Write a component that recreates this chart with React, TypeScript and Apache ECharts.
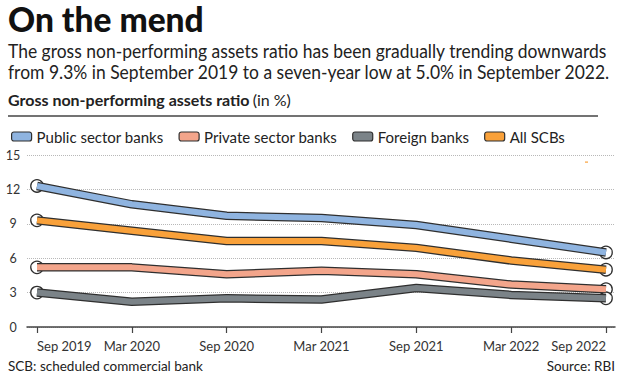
import React, { useEffect, useRef } from 'react';
import * as echarts from 'echarts';

const categories = ['Sep 2019', 'Mar 2020', 'Sep 2020', 'Mar 2021', 'Sep 2021', 'Mar 2022', 'Sep 2022'];
const publicSector = [12.3, 10.7, 9.7, 9.5, 8.9, 7.7, 6.5];
const privateSector = [5.2, 5.2, 4.6, 4.9, 4.6, 3.7, 3.3];
const foreignBanks = [3.0, 2.2, 2.5, 2.4, 3.4, 2.8, 2.5];
const allSCBs = [9.3, 8.4, 7.5, 7.5, 6.9, 5.8, 5.0];
const yMin = 0;
const yMax = 15;
const yInterval = 3;

const seriesDefs = [
  { name: 'Public sector banks', data: publicSector, color: '#8fb4e0' },
  { name: 'Private sector banks', data: privateSector, color: '#f3a58b' },
  { name: 'Foreign banks', data: foreignBanks, color: '#7b8388' },
  { name: 'All SCBs', data: allSCBs, color: '#f9a13a' },
];

const FONT = 'Lato, "Open Sans", sans-serif';
const DARK = '#2f2f2f';

export default function App() {
  const ref = useRef<HTMLDivElement>(null);
  useEffect(() => {
    if (!ref.current) return;
    const chart = echarts.init(ref.current, null, { renderer: 'svg' });
    const series: any[] = [];
    const drawOrder = [0, 3, 1, 2];
    drawOrder.forEach((i) => {
      const s = seriesDefs[i];
      series.push({
        type: 'line',
        name: s.name + ' outline',
        xAxisIndex: 1,
        yAxisIndex: 1,
        data: s.data,
        showSymbol: false,
        silent: true,
        lineStyle: { color: DARK, width: 8.5, join: 'round' },
        itemStyle: { color: DARK },
      });
      series.push({
        type: 'line',
        name: s.name,
        xAxisIndex: 1,
        yAxisIndex: 1,
        data: s.data,
        showSymbol: false,
        silent: true,
        color: s.color,
        lineStyle: { color: s.color, width: 6, join: 'round' },
        itemStyle: { color: s.color, borderColor: DARK, borderWidth: 1.2 },
      });
    });
    drawOrder.forEach((i) => {
      const s = seriesDefs[i];
      const last = s.data.length - 1;
      series.push({
        type: 'scatter',
        name: s.name + ' ends',
        xAxisIndex: 1,
        yAxisIndex: 1,
        data: [[0, s.data[0]], [last, s.data[last]]],
        symbol: 'circle',
        symbolSize: 12.5,
        silent: true,
        itemStyle: { color: '#ffffff', borderColor: DARK, borderWidth: 1.3, opacity: 1 },
      });
    });

    chart.setOption({
      animation: false,
      backgroundColor: '#ffffff',
      textStyle: { fontFamily: FONT },
      legend: {
        data: seriesDefs.map((s) => s.name),
        left: 6,
        top: 124,
        icon: 'roundRect',
        itemWidth: 20,
        itemHeight: 9,
        itemGap: 15,
        itemStyle: { borderColor: DARK, borderWidth: 1.2 },
        textStyle: { fontSize: 15, color: '#222', fontFamily: FONT, padding: [0, 0, 0, 0] },
        selectedMode: false,
      },
      grid: [
        { left: 27, right: 9, top: 155, bottom: 51 },
        { left: 37, right: 18, top: 155, bottom: 51 },
      ],
      xAxis: [
        {
          type: 'value',
          gridIndex: 0,
          min: 0,
          max: 1,
          axisLine: { show: true, lineStyle: { color: '#444', width: 1.5 } },
          axisTick: { show: false },
          axisLabel: { show: false },
          splitLine: { show: false },
        },
        {
          type: 'category',
          gridIndex: 1,
          data: categories,
          boundaryGap: false,
          axisLine: { show: false },
          axisTick: { show: true, length: 6, lineStyle: { color: '#444', width: 1.2 } },
          axisLabel: {
            interval: 0,
            color: '#333',
            fontSize: 13,
            margin: 12,
            fontFamily: FONT,
            alignMinLabel: 'left',
            alignMaxLabel: 'right',
          },
          splitLine: { show: false },
        },
      ],
      yAxis: [
        {
          type: 'value',
          gridIndex: 0,
          min: yMin,
          max: yMax,
          interval: yInterval,
          axisLine: { show: false },
          axisTick: { show: false },
          axisLabel: { color: '#333', fontSize: 12.5, align: 'center', margin: 14, fontFamily: FONT },
          splitLine: { show: true, lineStyle: { type: 'dotted', color: '#b8b8b8', width: 1 } },
        },
        {
          type: 'value',
          gridIndex: 1,
          min: yMin,
          max: yMax,
          interval: yInterval,
          show: false,
          splitLine: { show: false },
        },
      ],
      graphic: [
        {
          type: 'text',
          left: 8,
          top: 2,
          style: { text: 'On the mend', fontSize: 33.5, fontWeight: 900, fill: '#111', fontFamily: FONT },
        },
        {
          type: 'text',
          x: 8,
          y: 40,
          scaleX: 0.92,
          style: {
            text: 'The gross non-performing assets ratio has been gradually trending downwards\nfrom 9.3% in September 2019 to a seven-year low at 5.0% in September 2022.',
            fontSize: 19,
            lineHeight: 21,
            fill: '#222',
            fontFamily: FONT,
          },
        },
        {
          type: 'text',
          left: 8,
          top: 91,
          style: {
            text: '{b|Gross non-performing assets ratio} {n|(in %)}',
            fontFamily: FONT,
            rich: {
              b: { fontSize: 16, fontWeight: 'bold', fill: '#222', fontFamily: FONT },
              n: { fontSize: 16, fill: '#222', fontFamily: FONT },
            },
          },
        },
        {
          type: 'line',
          shape: { x1: 8, y1: 116, x2: 598, y2: 116 },
          style: { stroke: '#444', lineWidth: 1.5 },
        },
        {
          type: 'rect',
          shape: { x: 585, y: 161.5, width: 3, height: 1.2 },
          style: { fill: '#f9a13a' },
        },
        {
          type: 'text',
          left: 8,
          top: 359,
          style: { text: 'SCB: scheduled commercial bank', fontSize: 13.5, fill: '#222', fontFamily: FONT },
        },
        {
          type: 'text',
          right: 9,
          top: 359,
          style: { text: 'Source: RBI', fontSize: 13.5, fill: '#222', fontFamily: FONT },
        },
      ],
      series,
    });
    return () => chart.dispose();
  }, []);
  return <div ref={ref} style={{ width: 624, height: 378, position: 'absolute', left: 0, top: 0 }} />;
}
